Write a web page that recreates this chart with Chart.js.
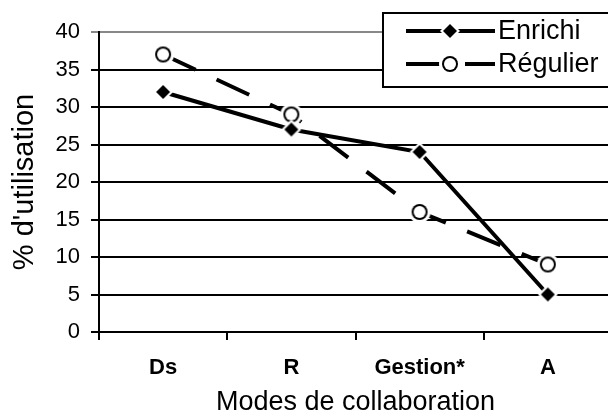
<!DOCTYPE html>
<html>
<head>
<meta charset="utf-8">
<script src="https://cdn.jsdelivr.net/npm/chart.js@4.4.1/dist/chart.umd.min.js"></script>
<style>
  html, body { margin: 0; padding: 0; background: #fff; overflow: hidden; }
  #wrap { width: 608px; height: 419px; overflow: hidden; }
  canvas { display: block; }
</style>
</head>
<body>
<div id="wrap"><canvas id="c" width="640" height="419"></canvas></div>
<script>
// Usage share of each collaboration mode, two groups
const categories = ['Ds', 'R', 'Gestion*', 'A'];
const enrichi = [32, 27, 24, 5];
const regulier = [37, 29, 16, 9];
const seriesNames = ['Enrichi', 'Régulier'];
const yTicks = [0, 5, 10, 15, 20, 25, 30, 35, 40];

const FONT = "'Liberation Sans', Arial, sans-serif";

// Marker sprites with a white halo so lines stop short of them
function diamondSprite() {
  const c = document.createElement('canvas');
  c.width = 22; c.height = 22;
  const g = c.getContext('2d');
  const d = (r, col) => {
    g.beginPath();
    g.moveTo(11, 11 - r); g.lineTo(11 + r, 11); g.lineTo(11, 11 + r); g.lineTo(11 - r, 11);
    g.closePath(); g.fillStyle = col; g.fill();
  };
  d(10, '#fff');
  d(7, '#000');
  return c;
}
function circleSprite() {
  const c = document.createElement('canvas');
  c.width = 24; c.height = 24;
  const g = c.getContext('2d');
  const circ = (r, col) => { g.beginPath(); g.arc(12, 12, r, 0, Math.PI * 2); g.fillStyle = col; g.fill(); };
  circ(11, '#fff');
  circ(8, '#000');
  circ(6, '#fff');
  return c;
}
const diamond = diamondSprite();
const circle = circleSprite();
const DASH = [36, 23];

// Boxed legend overlapping the top-right of the plot
const boxLegend = {
  id: 'boxLegend',
  afterDraw(chart) {
    const ctx = chart.ctx;
    ctx.save();
    ctx.fillStyle = '#fff';
    ctx.fillRect(383, 13, 300, 74);
    ctx.strokeStyle = '#000';
    ctx.lineWidth = 2;
    ctx.strokeRect(383, 13, 300, 74);
    const rows = [31, 64];
    chart.data.datasets.forEach((ds, i) => {
      const y = rows[i];
      ctx.beginPath();
      ctx.setLineDash(ds.borderDash || []);
      ctx.lineWidth = ds.borderWidth;
      ctx.strokeStyle = '#000';
      ctx.moveTo(406, y); ctx.lineTo(495, y);
      ctx.stroke();
      ctx.setLineDash([]);
      const img = ds.pointStyle;
      ctx.drawImage(img, 450 - img.width / 2, y - img.height / 2);
      ctx.fillStyle = '#000';
      ctx.font = '27px ' + FONT;
      ctx.textBaseline = 'middle';
      ctx.textAlign = 'left';
      ctx.fillText(ds.label, 498, y + 1);
    });
    ctx.restore();
  }
};

new Chart(document.getElementById('c'), {
  type: 'line',
  data: {
    labels: categories,
    datasets: [
      {
        label: seriesNames[0], data: enrichi,
        borderColor: '#000', borderWidth: 4, borderCapStyle: 'butt',
        pointStyle: diamond, pointRadius: 8, tension: 0
      },
      {
        label: seriesNames[1], data: regulier,
        borderColor: '#000', borderWidth: 4, borderDash: DASH, borderCapStyle: 'butt',
        pointStyle: circle, pointRadius: 8, tension: 0
      }
    ]
  },
  options: {
    responsive: false,
    animation: false,
    layout: { padding: { top: 32, right: 28, bottom: 0, left: 0 } },
    plugins: { legend: { display: false }, tooltip: { enabled: false }, title: { display: false } },
    scales: {
      x: {
        offset: true,
        grid: { offset: true, drawOnChartArea: false, drawTicks: true, tickLength: 8, color: '#000', lineWidth: 2 },
        border: { color: '#000', width: 2 },
        ticks: { color: '#000', font: { family: FONT, size: 22, weight: 'bold' }, padding: 15, maxRotation: 0 },
        title: { display: true, text: 'Modes de collaboration', color: '#000', font: { family: FONT, size: 27 }, padding: { top: 0, bottom: 0 } },
        afterFit(s) { s.height = 87; }
      },
      y: {
        min: 0, max: 40,
        afterBuildTicks(s) { s.ticks = yTicks.map(v => ({ value: v })); },
        grid: {
          color: c => (c.tick && c.tick.value === 40 ? '#888' : '#000'),
          lineWidth: 2, tickLength: 8, drawTicks: true
        },
        border: { color: '#000', width: 2 },
        ticks: { color: '#000', font: { family: FONT, size: 22 }, padding: 11 },
        title: { display: true, text: "% d'utilisation", color: '#000', font: { family: FONT, size: 29 }, padding: { top: 8, bottom: 0 } },
        afterFit(s) { s.width = 99; }
      }
    }
  },
  plugins: [boxLegend]
});
</script>
</body>
</html>
